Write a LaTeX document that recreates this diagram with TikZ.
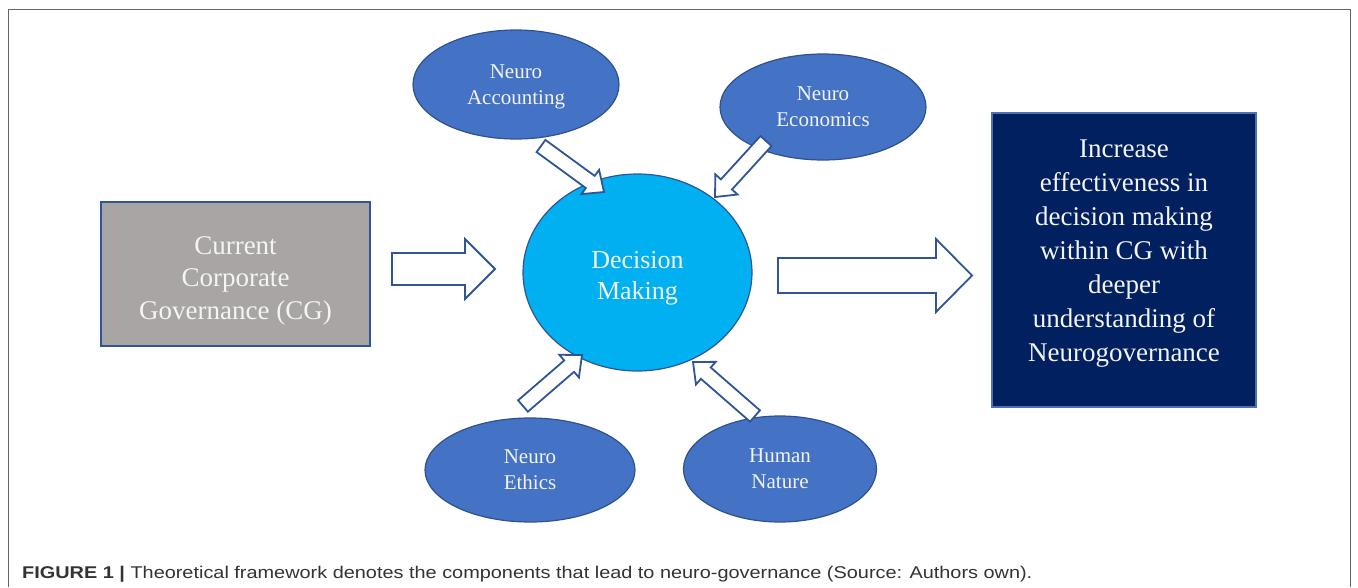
\documentclass[tikz,border=0pt]{standalone}
\usepackage{fontspec}
\setmainfont{Liberation Serif}
\newfontfamily\capfont[FakeStretch=1.17]{Liberation Sans}
\usetikzlibrary{shapes.geometric,calc}
\definecolor{ellfill}{HTML}{4472C4}
\definecolor{ellline}{HTML}{2F528F}
\definecolor{dmfill}{HTML}{00B0F0}
\definecolor{dmline}{HTML}{2F5597}
\definecolor{cgfill}{HTML}{A9A5A4}
\definecolor{navyfill}{HTML}{002060}
\definecolor{navyline}{HTML}{4F6FAD}
\definecolor{arrline}{HTML}{2F5597}
\definecolor{framegray}{HTML}{666666}
\definecolor{captext}{HTML}{333333}
\definecolor{softwhite}{HTML}{F4F4F4}
\tikzset{
  bluell/.style={ellipse, draw=ellline, fill=ellfill, line width=1.2pt, text=softwhite,
    align=center, inner sep=0pt, font=\fontsize{21}{26}\selectfont},
  barrow/.style={draw=arrline, fill=white, line width=1.8pt, line join=miter},
  cgbox/.style={rectangle, draw=dmline, fill=cgfill, line width=1.8pt, text=softwhite,
    align=center, inner sep=0pt, font=\fontsize{27}{32.5}\selectfont},
  navybox/.style={rectangle, draw=navyline, fill=navyfill, line width=1.5pt, text=softwhite,
    align=center, inner sep=0pt, font=\fontsize{27}{34}\selectfont},
  dmnode/.style={ellipse, draw=dmline, fill=dmfill, line width=1.2pt, text=softwhite,
    align=center, inner sep=0pt, font=\fontsize{26}{31}\selectfont},
}
% block arrow from #1 to #2: shaft half width #3, head half width #4, head length #5
\newcommand\blockarrow[5]{%
  \draw[barrow] let \p1=(#1), \p2=(#2),
     \n1={atan2(\y2-\y1,\x2-\x1)}, \n2={veclen(\x2-\x1,\y2-\y1)-#5} in
    ($(\p1)+(\n1+90:#3)$) -- ($(\p1)+(\n1:\n2)+(\n1+90:#3)$)
    -- ($(\p1)+(\n1:\n2)+(\n1+90:#4)$) -- (\p2)
    -- ($(\p1)+(\n1:\n2)+(\n1-90:#4)$) -- ($(\p1)+(\n1:\n2)+(\n1-90:#3)$)
    -- ($(\p1)+(\n1-90:#3)$) -- cycle;}
\begin{document}
\begin{tikzpicture}[x=1pt,y=1pt]
\useasboundingbox (0,0) rectangle (1358,-587);
\draw[framegray, line width=1pt] (8,-587) -- (8,-9) -- (1350,-9) -- (1350,-587);

% nodes
\node[cgbox, minimum width=269, minimum height=144] (cg) at (235.5,-274)
  {\rule{0pt}{31pt}Current\\Corporate\\Governance (CG)};
\node[dmnode, minimum width=229, minimum height=197] (dm) at (637.5,-272.5)
  {\rule{0pt}{28pt}Decision\\Making};
\node[navybox, minimum width=264, minimum height=294] (out) at (1124,-260)
  {Increase\\effectiveness in\\decision making\\within CG with\\deeper\\understanding of\\Neurogovernance\rule[-18pt]{0pt}{1pt}};
\node[bluell, minimum width=206, minimum height=109] (acc) at (516,-84.5) {\rule{0pt}{19pt}Neuro\\Accounting};
\node[bluell, minimum width=206, minimum height=106] (eco) at (823,-107) {Neuro\\Economics};
\node[bluell, minimum width=210, minimum height=104] (eth) at (530,-470) {Neuro\\Ethics};
\node[bluell, minimum width=193, minimum height=106] (hum) at (780,-469) {Human\\Nature};

% arrow end points
\coordinate (a1s) at (392,-269);
\coordinate (a1e) at (495,-269);
\coordinate (a2s) at (778,-275.5);
\coordinate (a2e) at (972,-275.5);
\coordinate (accs) at (541,-146);
\coordinate (acce) at (604,-192);
\coordinate (ecos) at (766,-141);
\coordinate (ecoe) at (715,-197);
\coordinate (eths) at (523,-406);
\coordinate (ethe) at (582,-355);
\coordinate (hums) at (755,-416);
\coordinate (hume) at (693,-362);

\blockarrow{a1s}{a1e}{16}{30}{30}
\blockarrow{a2s}{a2e}{17.5}{36.5}{36}
\blockarrow{accs}{acce}{7.5}{15}{17}
\blockarrow{ecos}{ecoe}{7.5}{15}{17}
\blockarrow{eths}{ethe}{7.5}{15}{17}
\blockarrow{hums}{hume}{7.5}{15}{17}

\node[anchor=base west, inner sep=0pt, text=captext, font=\capfont\fontsize{17}{20}\selectfont] (cap) at (22,-578)
  {\textbf{FIGURE 1 |} Theoretical framework denotes the components that lead to neuro-governance (Source: Authors own).};
\end{tikzpicture}
\end{document}
